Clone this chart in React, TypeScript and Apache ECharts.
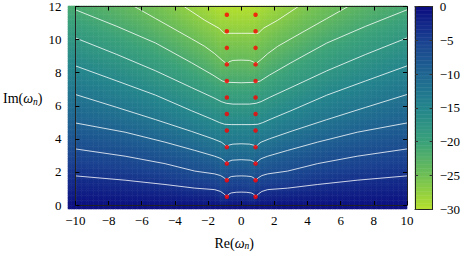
import React, { useEffect, useRef } from 'react';
import * as echarts from 'echarts';

const FONT = "'Liberation Serif', 'DejaVu Serif', serif";

const xTicks = [-10, -8, -6, -4, -2, 0, 2, 4, 6, 8, 10];
const yTicks = [0, 2, 4, 6, 8, 10, 12];
const cbTicks = [0, -5, -10, -15, -20, -25, -30];

// contour levels and their lines (left half, mirrored to the right)
const levels = [-3, -6, -9, -12, -15, -18, -21, -24, -27, -30];
const c03 = [[-10, 1.76], [-7, 1.5], [-4.6, 1.24], [-2.8, 1.02], [-1.6, 0.93], [-1.25, 0.82], [-1.05, 0.68], [-0.93, 0.57], [-0.87, 0.5], [-0.75, 0.66], [-0.6, 0.73], [-0.3, 0.77], [0, 0.78]];
const c06 = [[-10, 3.39], [-7, 2.95], [-4.6, 2.5], [-2.8, 2.05], [-1.6, 1.88], [-1.25, 1.78], [-1.05, 1.66], [-0.93, 1.56], [-0.87, 1.5], [-0.75, 1.65], [-0.6, 1.72], [-0.3, 1.75], [0, 1.76]];
const c09 = [[-10, 4.96], [-7, 4.4], [-4.6, 3.8], [-2.8, 3.3], [-1.6, 2.95], [-1.2, 2.8], [-1.0, 2.66], [-0.87, 2.5], [-0.75, 2.64], [-0.55, 2.71], [0, 2.74]];
const c12 = [[-10, 6.68], [-7.5, 5.9], [-5.16, 5.16], [-3, 4.45], [-1.7, 4.0], [-1.2, 3.8], [-1.0, 3.65], [-0.87, 3.5], [-0.75, 3.62], [-0.5, 3.68], [0, 3.7]];
const c15 = [[-10, 8.41], [-7.5, 7.5], [-5.16, 6.64], [-3, 5.7], [-1.8, 5.2], [-1.3, 4.98], [-1.0, 4.88], [-0.6, 4.86], [0, 4.86]];
const c18 = [[-10, 10.1], [-7.5, 9.1], [-5.16, 8.11], [-3, 7.1], [-1.7, 6.5], [-1.2, 6.25], [-0.9, 6.15], [-0.5, 6.1], [0, 6.1]];
const c21 = [[-10, 11.8], [-7.5, 10.8], [-5.16, 9.79], [-3, 8.6], [-1.7, 7.85], [-1.15, 7.5], [-0.9, 7.42], [0, 7.39]];
const c24 = [[-10, 13.9], [-7.5, 12.6], [-5.16, 11.27], [-3, 10.05], [-2.2, 9.59], [-1.6, 9.15], [-1.15, 8.75], [-0.95, 8.6], [-0.87, 8.52], [-0.75, 8.65], [-0.5, 8.74], [0, 8.76]];
const c27 = [[-10, 15.9], [-5, 13.3], [-3.39, 11.96], [-2.2, 11.17], [-1.33, 10.68], [-1.03, 10.38], [0, 10.38]];
const c30 = [[-10, 18], [-5, 15], [-2, 12.9], [-1.2, 12.25], [-0.9, 12.05], [0, 12.0]];
const contours = [c03, c06, c09, c12, c15, c18, c21, c24, c27, c30];

// marked frequencies
const poleRe = [-0.866, 0.866];
const poleIm = [0.5, 1.5, 2.5, 3.5, 4.5, 5.5, 6.5, 7.5, 8.5, 9.5, 10.5, 11.5];

// colour map from -30 (first) to 0 (last)
const palette = ['#b5e02c', '#6fbf55', '#3aa17a', '#24858c', '#1f6691', '#1a4190', '#0b0c80'];

const NX = 200;
const NY = 120;
const NCB = 150;

function lineY(pts: number[][], ax: number): number {
  if (ax <= pts[0][0]) return pts[0][1];
  for (let i = 0; i < pts.length - 1; i++) {
    const [x0, y0] = pts[i];
    const [x1, y1] = pts[i + 1];
    if (ax >= x0 && ax <= x1) return y0 + ((y1 - y0) * (ax - x0)) / (x1 - x0);
  }
  return pts[pts.length - 1][1];
}

function fieldAt(x: number, y: number): number {
  const ax = -Math.abs(x);
  const ys = [0];
  const vs = [0];
  contours.forEach((c, k) => {
    ys.push(Math.max(lineY(c, ax), ys[ys.length - 1] + 0.01));
    vs.push(levels[k]);
  });
  for (let k = 0; k < ys.length - 1; k++) {
    if (y >= ys[k] && y <= ys[k + 1]) return vs[k] + ((vs[k + 1] - vs[k]) * (y - ys[k])) / (ys[k + 1] - ys[k]);
  }
  return -30;
}

function mirror(pts: number[][]): number[][] {
  const right = pts.slice(0, -1).reverse().map(([x, y]) => [-x, y]);
  return [...pts, ...right];
}

const fmt = (v: number) => (v < 0 ? '\u2212' + -v : String(v));

export default function App() {
  const ref = useRef<HTMLDivElement>(null);
  useEffect(() => {
    if (!ref.current) return;
    const chart = echarts.init(ref.current, undefined, { renderer: 'svg' });

    const hx: string[] = [];
    const hy: string[] = [];
    for (let i = 0; i < NX; i++) hx.push(String(i));
    for (let j = 0; j < NY; j++) hy.push(String(j));
    const heat: number[][] = [];
    for (let i = 0; i < NX; i++) {
      const x = -10 + (i + 0.5) * (20 / NX);
      for (let j = 0; j < NY; j++) {
        const y = (j + 0.5) * (12 / NY);
        heat.push([i, j, fieldAt(x, y)]);
      }
    }
    const cbCats: string[] = [];
    const cbData: number[][] = [];
    for (let j = 0; j < NCB; j++) {
      cbCats.push(String(j));
      cbData.push([0, j, -30 + (j + 0.5) * (30 / NCB)]);
    }

    const dots: number[][] = [];
    poleIm.forEach((im) => poleRe.forEach((re) => dots.push([re, im])));

    const rich = {
      r: { fontFamily: FONT, fontSize: 14, color: '#000' },
      w: { fontFamily: FONT, fontSize: 14, fontStyle: 'italic', color: '#000' },
      s: { fontFamily: FONT, fontSize: 9.5, fontStyle: 'italic', color: '#000', padding: [6, 0, 0, 0] },
    };
    const tickLbl = { fontFamily: FONT, fontSize: 13, color: '#000' };
    const frame = { show: true, onZero: false, lineStyle: { color: '#222', width: 1 } };
    const tick = { show: true, inside: true, length: 4, lineStyle: { color: '#000', width: 1 } };

    const option: any = {
      animation: false,
      backgroundColor: '#fff',
      grid: [
        { left: 68, top: 6, width: 339, height: 203 },
        { left: 68, top: 6, width: 339, height: 203 },
        { left: 415, top: 6, width: 18, height: 203 },
      ],
      visualMap: {
        type: 'continuous',
        show: false,
        min: -30,
        max: 0,
        seriesIndex: [0, 1],
        inRange: { color: palette },
      },
      xAxis: [
        {
          gridIndex: 0, type: 'value', min: -10, max: 10, interval: 2, position: 'bottom', z: 10,
          axisLine: frame, axisTick: tick, splitLine: { show: false },
          axisLabel: { ...tickLbl, margin: 9, formatter: fmt },
          name: '{r|Re(}{w|\u03c9}{s|n}{r|)}', nameLocation: 'middle', nameGap: 30,
          nameTextStyle: { rich, padding: [0, 14, 0, 0] },
        },
        {
          gridIndex: 0, type: 'value', min: -10, max: 10, interval: 2, position: 'top', z: 10,
          axisLine: frame, axisTick: tick, splitLine: { show: false }, axisLabel: { show: false },
        },
        { gridIndex: 1, type: 'category', data: hx, show: false },
        { gridIndex: 2, type: 'category', data: ['c'], show: false },
        {
          gridIndex: 2, type: 'value', min: 0, max: 1, position: 'bottom', z: 10,
          axisLine: frame, axisTick: { show: false }, axisLabel: { show: false }, splitLine: { show: false },
        },
        {
          gridIndex: 2, type: 'value', min: 0, max: 1, position: 'top', z: 10,
          axisLine: frame, axisTick: { show: false }, axisLabel: { show: false }, splitLine: { show: false },
        },
      ],
      yAxis: [
        {
          gridIndex: 0, type: 'value', min: 0, max: 12, interval: 2, position: 'left', z: 10,
          axisLine: frame, axisTick: tick, splitLine: { show: false },
          axisLabel: { ...tickLbl, margin: 14, formatter: fmt },
          name: '{r|Im(}{w|\u03c9}{s|n}{r|)}', nameLocation: 'middle', nameRotate: 0, nameGap: 29,
          nameTextStyle: { rich, padding: [0, 0, 14, 0] },
        },
        {
          gridIndex: 0, type: 'value', min: 0, max: 12, interval: 2, position: 'right', z: 10,
          axisLine: frame, axisTick: tick, splitLine: { show: false }, axisLabel: { show: false },
        },
        { gridIndex: 1, type: 'category', data: hy, show: false },
        { gridIndex: 2, type: 'category', data: cbCats, show: false },
        {
          gridIndex: 2, type: 'value', min: -30, max: 0, interval: 5, position: 'right', z: 10,
          axisLine: frame, splitLine: { show: false },
          axisTick: { show: true, inside: true, length: 3, lineStyle: { color: '#333' } },
          axisLabel: { ...tickLbl, margin: 7, formatter: fmt },
        },
        {
          gridIndex: 2, type: 'value', min: -30, max: 0, interval: 5, position: 'left', z: 10,
          axisLine: frame, splitLine: { show: false },
          axisTick: { show: true, inside: true, length: 3, lineStyle: { color: '#333' } },
          axisLabel: { show: false },
        },
      ],
      series: [
        {
          type: 'heatmap', xAxisIndex: 2, yAxisIndex: 2, data: heat, z: 1,
          progressive: 0, emphasis: { disabled: true },
        },
        {
          type: 'heatmap', xAxisIndex: 3, yAxisIndex: 3, data: cbData, z: 1,
          progressive: 0, emphasis: { disabled: true },
        },
        ...contours.map((c) => ({
          type: 'line', xAxisIndex: 0, yAxisIndex: 0, data: mirror(c), showSymbol: false, z: 3,
          lineStyle: { color: 'rgba(255,255,255,0.78)', width: 1 }, silent: true, clip: true,
        })),
        {
          type: 'scatter', xAxisIndex: 0, yAxisIndex: 0, data: dots, symbolSize: 4.5, z: 4,
          itemStyle: { color: '#ff0000' }, silent: true,
        },
      ],
    };
    chart.setOption(option);
    return () => chart.dispose();
  }, []);
  return <div ref={ref} style={{ position: 'fixed', left: 0, top: 0, width: 463, height: 256 }} />;
}
